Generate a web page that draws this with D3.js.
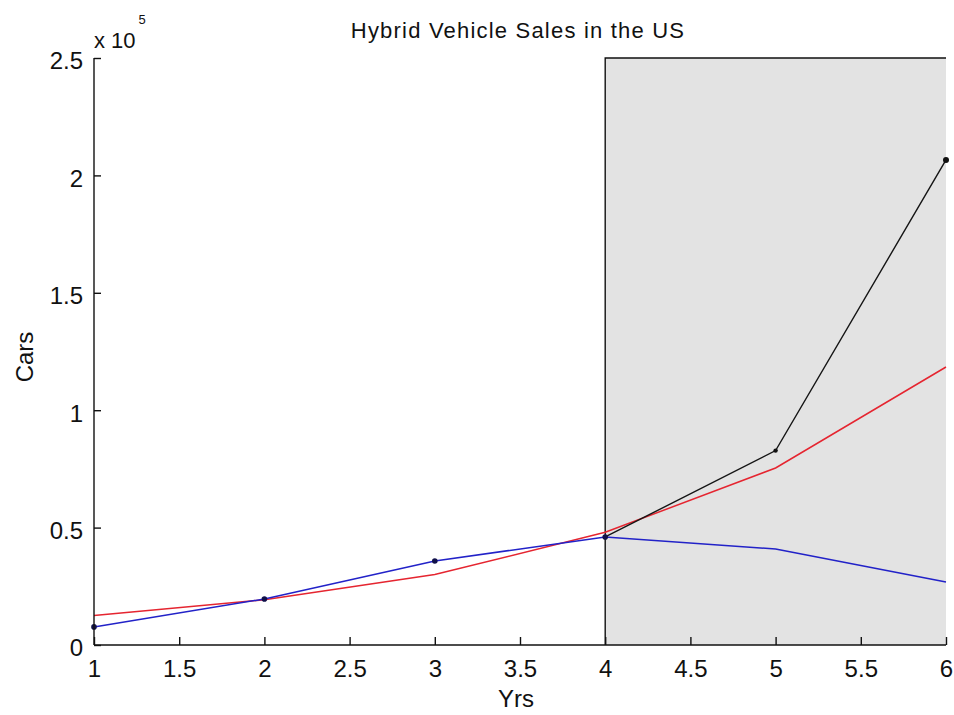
<!DOCTYPE html>
<html>
<head>
<meta charset="utf-8">
<script src="https://cdn.jsdelivr.net/npm/d3@7"></script>
<style>
body { margin: 0; background: #fff; }
text { font-family: "Liberation Sans", Arial, sans-serif; fill: #111; }
</style>
</head>
<body>
<svg id="chart" width="954" height="715"></svg>
<script>
const years = [1, 2, 3, 4, 5, 6];
const blueSales = [7700, 19600, 35800, 46000, 40900, 26800];
const redFit = [12600, 19300, 30000, 48000, 75400, 118400];
const blackYears = [4, 5, 6];
const blackSales = [46000, 82800, 206600];
const blueMarkerYears = [1, 2, 3, 4];
const blackMarkerYears = [5, 6];
const xTicks = [1, 1.5, 2, 2.5, 3, 3.5, 4, 4.5, 5, 5.5, 6];
const yTicks = [0, 50000, 100000, 150000, 200000, 250000];
const yTickLabels = ["0", "0.5", "1", "1.5", "2", "2.5"];
const shadeRange = [4, 6];

const svg = d3.select("#chart");
const m = { left: 94, top: 58, right: 946, bottom: 645 };
const x = d3.scaleLinear().domain([1, 6]).range([m.left, m.right]);
const y = d3.scaleLinear().domain([0, 250000]).range([m.bottom, m.top]);

// shaded forecast region
svg.append("rect")
  .attr("x", x(shadeRange[0])).attr("y", y(250000))
  .attr("width", x(shadeRange[1]) - x(shadeRange[0]))
  .attr("height", y(0) - y(250000))
  .attr("fill", "#e3e3e3");
svg.append("path")
  .attr("d", `M${x(shadeRange[0])},${y(0)}V${y(250000)}H${x(shadeRange[1])}`)
  .attr("fill", "none").attr("stroke", "#111").attr("stroke-width", 1.4);

const line = d3.line().x(d => x(d[0])).y(d => y(d[1]));

svg.append("path").datum(years.map((t, i) => [t, redFit[i]]))
  .attr("d", line).attr("fill", "none").attr("stroke", "#e52530").attr("stroke-width", 1.5);
svg.append("path").datum(years.map((t, i) => [t, blueSales[i]]))
  .attr("d", line).attr("fill", "none").attr("stroke", "#2222c8").attr("stroke-width", 1.5);
svg.append("path").datum(blackYears.map((t, i) => [t, blackSales[i]]))
  .attr("d", line).attr("fill", "none").attr("stroke", "#151515").attr("stroke-width", 1.4);

svg.selectAll(".bm").data(blueMarkerYears).enter().append("circle")
  .attr("cx", d => x(d)).attr("cy", d => y(blueSales[years.indexOf(d)]))
  .attr("r", 2.8).attr("fill", "#10104a");
svg.selectAll(".km").data(blackMarkerYears).enter().append("circle")
  .attr("cx", d => x(d)).attr("cy", d => y(blackSales[blackYears.indexOf(d)]))
  .attr("r", d => d === 6 ? 3 : 2.2).attr("fill", "#111");

// axes
const xAxis = d3.axisBottom(x).tickValues(xTicks).tickSize(-8).tickPadding(15)
  .tickFormat(d3.format("~g"));
const gx = svg.append("g").attr("transform", `translate(0,${m.bottom})`).call(xAxis);
const yAxis = d3.axisLeft(y).tickValues(yTicks).tickSize(-7).tickPadding(11)
  .tickFormat((d, i) => yTickLabels[i]);
const gy = svg.append("g").attr("transform", `translate(${m.left},0)`).call(yAxis);
[gx, gy].forEach(g => {
  g.select(".domain").attr("stroke", "#111").attr("stroke-width", 1.4);
  g.selectAll(".tick line").attr("stroke", "#111").attr("stroke-width", 1.4);
  g.selectAll(".tick text").attr("font-size", 24).attr("font-family", "Liberation Sans, Arial, sans-serif").attr("fill", "#111");
});
gy.selectAll(".tick text").attr("dy", "0.45em");
gx.selectAll(".tick text").attr("dy", "0.7em");
gy.select(".domain").attr("d", `M0,${m.bottom}V${m.top}`);
gx.select(".domain").attr("d", `M${m.left},0H${m.right}`);

// labels
svg.append("text").attr("x", 518).attr("y", 38).attr("text-anchor", "middle")
  .attr("font-size", 22).attr("letter-spacing", 1.2).text("Hybrid Vehicle Sales in the US");
svg.append("text").attr("x", 516).attr("y", 707).attr("text-anchor", "middle")
  .attr("font-size", 24).text("Yrs");
svg.append("text").attr("transform", "translate(33,357) rotate(-90)").attr("text-anchor", "middle")
  .attr("font-size", 24).text("Cars");
const ex = svg.append("text").attr("x", 94).attr("y", 48).attr("font-size", 22);
ex.append("tspan").text("x 10");
ex.append("tspan").attr("dy", -24).attr("dx", 3).attr("font-size", 13).text("5");
</script>
</body>
</html>
